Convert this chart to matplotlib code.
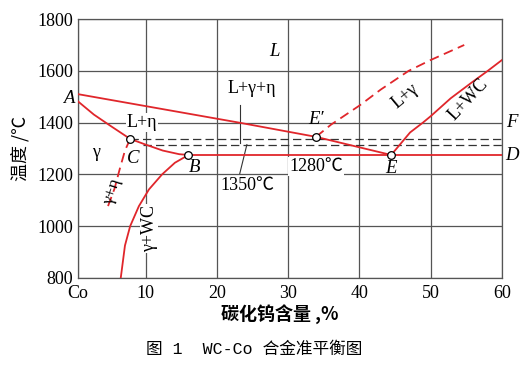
import matplotlib
matplotlib.use('Agg')
from matplotlib import pyplot as plt

plt.rcParams['font.family'] = ['Liberation Serif', 'Noto Sans CJK SC']
plt.rcParams['lines.scale_dashes'] = False

RED = '#e0262b'
GRID = '#555555'

# axis ticks
x_ticks = [0.5, 10, 20, 30, 40, 50, 60]
x_labels = ['Co', '10', '20', '30', '40', '50', '60']
y_ticks = [800, 1000, 1200, 1400, 1600, 1800]

# liquidus A - E' - E
liq_x = [0.5, 23.1, 33.9, 44.45]
liq_t = [1510, 1400, 1345, 1275]
# curve A - C - B
sol_x = [0.5, 2.73, 5.14, 7.82, 10.0, 12.4, 14.7, 16.0]
sol_t = [1482, 1431, 1386, 1337, 1315, 1292, 1278, 1275]
# eutectic line B - D
eut_x = [16.0, 60.0]
eut_t = [1275, 1275]
# gamma / gamma+WC boundary
gwc_x = [16.0, 14.1, 12.3, 10.46, 9.04, 7.82, 7.09, 6.5]
gwc_t = [1275, 1245, 1200, 1142, 1077, 1000, 925, 800]
# gamma / gamma+eta boundary (dashed)
geta_x = [7.82, 7.09, 6.36, 5.64, 4.68]
geta_t = [1337, 1292, 1221, 1146, 1075]
# L / L+gamma (dashed) from E'
lg_x = [33.9, 36.0, 40.0, 43.0, 46.9, 50.0, 54.7]
lg_t = [1345, 1392, 1466, 1528, 1600, 1642, 1700]
# L / L+WC from E
lwc_x = [44.45, 47.1, 48.9, 50.0, 52.8, 55.8, 58.0, 60.0]
lwc_t = [1275, 1362, 1400, 1425, 1494, 1556, 1600, 1642]
# black dashed isotherms
iso_start = [7.82, 9.6]
iso_t = [1337, 1315]
# marked points C, B, E', E
pt_x = [7.82, 16.0, 33.9, 44.45]
pt_t = [1337, 1275, 1345, 1275]

fig = plt.figure(figsize=(5.29, 3.68), dpi=100)
ax = fig.add_axes([78 / 529, 1 - 277.9 / 368, (502 - 78) / 529, (277.9 - 19.1) / 368])
ax.set_xlim(0.5, 60)
ax.set_ylim(800, 1800)
ax.set_xticks(x_ticks)
ax.set_xticklabels(x_labels)
ax.set_yticks(y_ticks)
ax.tick_params(length=0, labelsize=13)
ax.tick_params(axis='x', pad=5)
ax.tick_params(axis='y', pad=3.5)
ax.set_axisbelow(True)
ax.grid(True, color=GRID, linewidth=0.9)
for s in ax.spines.values():
    s.set_color(GRID)
    s.set_linewidth(0.9)

lw = 1.3
ax.plot(liq_x, liq_t, color=RED, lw=lw, zorder=3)
ax.plot(sol_x, sol_t, color=RED, lw=lw, zorder=3)
ax.plot(eut_x, eut_t, color=RED, lw=lw, zorder=3)
ax.plot(gwc_x, gwc_t, color=RED, lw=lw, zorder=3)
ax.plot(lwc_x, lwc_t, color=RED, lw=lw, zorder=3)
ax.plot(geta_x, geta_t, color=RED, lw=lw, dashes=(7, 4), zorder=3)
ax.plot(lg_x, lg_t, color=RED, lw=lw, dashes=(7, 4), zorder=3)
for xs, t in zip(iso_start, iso_t):
    ax.plot([xs, 60], [t, t], color='#333333', lw=0.9, dashes=(6, 3), zorder=2)

ax.plot(pt_x, pt_t, 'o', ms=5.5, mfc='white', mec='black', mew=0.9, zorder=4)

# leader lines
ax.plot([23.3, 23.3], [1467, 1321], color='#333333', lw=0.8, zorder=2)
ax.plot([23.2, 24.2], [1203, 1315], color='#333333', lw=0.8, zorder=2)

wb = dict(facecolor='white', edgecolor='none', pad=0.5)
fs = 13
it = dict(style='italic', fontsize=13.5, ha='center', va='center')
ax.text(28.1, 1675, 'L', **it)
ax.text(-0.05, 1492, 'A', style='italic', fontsize=13.5, ha='right', va='center', clip_on=False)
ax.text(8.2, 1260, 'C', **it)
ax.text(16.8, 1228, 'B', **it)
ax.text(44.45, 1223, 'E', **it)
ax.text(33.9, 1412, 'E′', **it)
ax.text(61.4, 1400, 'F', clip_on=False, **it)
ax.text(61.4, 1273, 'D', clip_on=False, **it)

ax.text(24.9, 1530, 'L+γ+η', fontsize=fs, ha='center', va='center')
ax.text(9.5, 1400, 'L+η', fontsize=fs, ha='center', va='center', bbox=wb, zorder=1)
ax.text(2.97, 1285, 'γ', fontsize=fs, ha='center', va='center')
ax.text(33.9, 1230, '1280℃', fontsize=fs, ha='center', va='center', bbox=wb, zorder=1)
ax.text(24.3, 1158, '1350℃', fontsize=fs, ha='center', va='center')
ax.text(5.37, 1136, 'γ+η', fontsize=12.5, ha='center', va='center', rotation=72)
ax.text(10.5, 991, 'γ+WC', fontsize=fs, ha='center', va='center', rotation=90,
        bbox=wb, zorder=1)
ax.text(46.4, 1504, 'L+γ', fontsize=fs, ha='center', va='center', rotation=40)
ax.text(55.3, 1490, 'L+WC', fontsize=fs, ha='center', va='center', rotation=47)

fig.text(20 / 529, 1 - 148 / 368, '温度 /℃', rotation=90, fontsize=13,
         ha='center', va='center', family=['Noto Sans CJK SC', 'Liberation Serif'])
fig.text(280 / 529, 1 - 315 / 368, '碳化钨含量 ,%', fontsize=13, weight='bold',
         ha='center', va='center', family=['Noto Sans CJK SC', 'Liberation Serif'])
fig.text(254 / 529, 1 - 349 / 368, '图 1  WC-Co 合金准平衡图', fontsize=12,
         ha='center', va='center', family=['Liberation Mono', 'Noto Sans CJK SC'])

fig.savefig('out.png', dpi=100)
